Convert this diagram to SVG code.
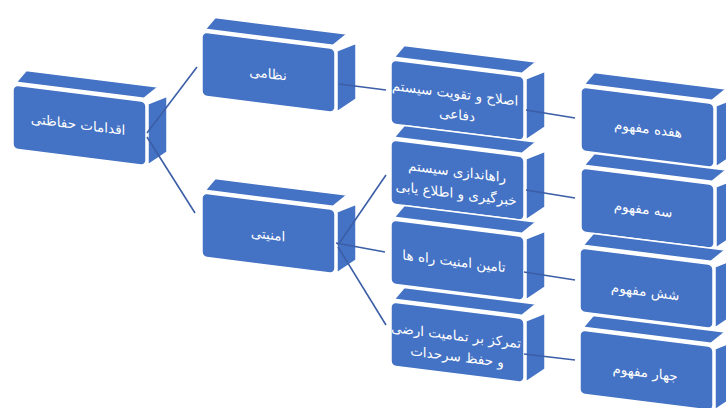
<svg xmlns="http://www.w3.org/2000/svg" xmlns:xlink="http://www.w3.org/1999/xlink" width="726" height="408" viewBox="0 0 726 408">
<style>
.f{fill:#4472C4;stroke:#fff;stroke-width:1.5;stroke-linejoin:round}
.t{font-family:"DejaVu Sans",sans-serif;font-size:13.5px;fill:#fff;text-anchor:middle}
.c{fill:none;stroke:#3B5EA6;stroke-width:1.6}
</style>
<defs>
<g id="cube">
<polygon class="f" points="3,-3 131,-3 145,-16 13,-16"/>
<polygon class="f" points="135,2 154,-8 154,48 135,63"/>
<rect class="f" x="0" y="0" width="133" height="64" rx="5"/>
</g>
</defs>
<rect width="726" height="408" fill="#fff"/>
<g id="n-root" transform="translate(13,85) skewY(7.1)"><use href="#cube"/><text class="t" x="65" y="36">اقدامات حفاظتی</text></g>
<g id="n-military" transform="translate(202,32) skewY(7.1)"><use href="#cube"/><text class="t" x="66" y="38">نظامی</text></g>
<g id="n-security" transform="translate(202,193) skewY(7.1)"><use href="#cube"/><text class="t" x="66" y="38">امنیتی</text></g>
<g id="n-reform" transform="translate(391,60) skewY(7.1)"><use href="#cube"/><text class="t" x="64" y="30">اصلاح و تقویت سیستم</text><text class="t" x="66" y="51">دفاعی</text></g>
<g id="n-intel" transform="translate(391,140) skewY(7.1)"><use href="#cube"/><text class="t" x="66" y="28">راهاندازی سیستم</text><text class="t" x="65" y="50">خبرگیری و اطلاع یابی</text></g>
<g id="n-roads" transform="translate(391,220) skewY(7.1)"><use href="#cube"/><text class="t" x="63" y="38">تامین امنیت راه ها</text></g>
<g id="n-border" transform="translate(391,302) skewY(7.1)"><use href="#cube"/><text class="t" x="65" y="30">تمرکز بر تمامیت ارضی</text><text class="t" x="66" y="51">و حفظ سرحدات</text></g>
<g id="n-17" transform="translate(581,87) skewY(7.1)"><use href="#cube"/><text class="t" x="67" y="38">هفده مفهوم</text></g>
<g id="n-3" transform="translate(581,168) skewY(7.1)"><use href="#cube"/><text class="t" x="62" y="38">سه مفهوم</text></g>
<g id="n-6" transform="translate(580,248) skewY(7.1)"><use href="#cube"/><text class="t" x="65" y="40">شش مفهوم</text></g>
<g id="n-4" transform="translate(580,330) skewY(7.1)"><use href="#cube"/><text class="t" x="65" y="39">جهار مفهوم</text></g>
<g id="connectors">
<line class="c" x1="147" y1="133" x2="197" y2="67"/>
<line class="c" x1="147" y1="137" x2="195" y2="213"/>
<line class="c" x1="339" y1="84" x2="386" y2="90"/>
<line class="c" x1="338" y1="245" x2="386" y2="175"/>
<line class="c" x1="336" y1="243" x2="385" y2="252"/>
<line class="c" x1="338" y1="247" x2="386" y2="325"/>
<line class="c" x1="526" y1="110" x2="575" y2="118"/>
<line class="c" x1="526" y1="190" x2="575" y2="198"/>
<line class="c" x1="524" y1="272" x2="575" y2="280"/>
<line class="c" x1="524" y1="354" x2="575" y2="360"/>
</g>
</svg>
